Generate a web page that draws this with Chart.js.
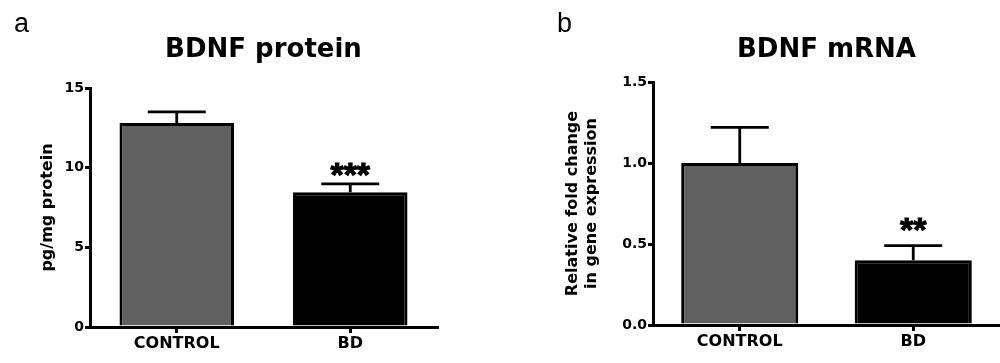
<!DOCTYPE html>
<html>
<head>
<meta charset="utf-8">
<script src="https://cdn.jsdelivr.net/npm/chart.js@4"></script>
<style>
  body { margin: 0; background: #fff; }
  #wrap { position: relative; width: 1000px; height: 363px; overflow: hidden; }
  .panel { position: absolute; top: 0; width: 500px; height: 363px; }
</style>
</head>
<body>
<div id="wrap">
  <div class="panel" style="left:0"><canvas id="chartA" width="500" height="363"></canvas></div>
  <div class="panel" style="left:500px"><canvas id="chartB" width="500" height="363"></canvas></div>
</div>
<script>
// данные
const groups = ['CONTROL', 'BD'];
const barColors = ['#606060', '#000000'];

const proteinMeans = [12.8, 8.45];
const proteinErrors = [0.7, 0.53];
const proteinStars = ['', '***'];
const proteinTicks = [0, 5, 10, 15];

const mrnaMeans = [1.0, 0.40];
const mrnaErrors = [0.22, 0.09];
const mrnaStars = ['', '**'];
const mrnaTicks = [0.0, 0.5, 1.0, 1.5];

const boldFont = 'DejaVu Sans';

// планки погрешностей и звёздочки над столбцами
const errorBars = {
    id: 'errorBars',
    afterDatasetsDraw(chart, args, opts) {
        const ctx = chart.ctx;
        const y = chart.scales.y;
        const values = chart.data.datasets[0].data;
        const meta = chart.getDatasetMeta(0);
        ctx.save();
        ctx.strokeStyle = '#000';
        ctx.lineWidth = 2.8;
        meta.data.forEach((bar, i) => {
            const top = y.getPixelForValue(values[i] + opts.errors[i]);
            ctx.beginPath();
            ctx.moveTo(bar.x, bar.y);
            ctx.lineTo(bar.x, top);
            ctx.moveTo(bar.x - 29, top);
            ctx.lineTo(bar.x + 29, top);
            ctx.stroke();
            if (opts.stars[i]) {
                ctx.fillStyle = '#000';
                ctx.lineWidth = 1;
                ctx.font = 'bold 34px "Liberation Sans"';
                ctx.textAlign = 'center';
                ctx.textBaseline = 'alphabetic';
                ctx.fillText(opts.stars[i], bar.x, top + opts.starDrop);
                ctx.strokeText(opts.stars[i], bar.x, top + opts.starDrop);
            }
        });
        ctx.restore();
    }
};

// буква панели и заголовок
const panelText = {
    id: 'panelText',
    afterDraw(chart, args, opts) {
        const ctx = chart.ctx;
        const area = chart.chartArea;
        ctx.save();
        ctx.fillStyle = '#000';
        ctx.textBaseline = 'alphabetic';
        ctx.textAlign = 'left';
        ctx.font = '27px "Liberation Sans"';
        ctx.fillText(opts.letter, opts.letterX, 32);
        ctx.textAlign = 'center';
        ctx.textBaseline = 'middle';
        ctx.font = 'bold 26px ' + boldFont;
        ctx.fillText(opts.title, (area.left + area.right) / 2, 50);
        ctx.restore();
    }
};

function makeChart(id, cfg) {
    const ctx = document.getElementById(id).getContext('2d');
    return new Chart(ctx, {
        type: 'bar',
        data: {
            labels: groups,
            datasets: [{
                data: cfg.means,
                backgroundColor: barColors,
                borderColor: '#000',
                borderWidth: 3,
                categoryPercentage: 1,
                barPercentage: cfg.barPct
            }]
        },
        options: {
            responsive: false,
            animation: false,
            layout: { padding: cfg.padding },
            plugins: {
                legend: { display: false },
                tooltip: { enabled: false },
                errorBars: { errors: cfg.errors, stars: cfg.stars, starDrop: cfg.starDrop },
                panelText: { letter: cfg.letter, letterX: cfg.letterX, title: cfg.title }
            },
            scales: {
                x: {
                    afterFit: s => { s.height = cfg.xHeight; },
                    border: { color: '#000', width: 3 },
                    grid: { drawOnChartArea: false, offset: false, tickLength: 6, color: '#000', lineWidth: 3 },
                    ticks: { color: '#000', padding: 1, font: { family: boldFont, weight: 'bold', size: 16 } }
                },
                y: {
                    min: cfg.ticks[0],
                    max: cfg.ticks[cfg.ticks.length - 1],
                    afterBuildTicks: s => { s.ticks = cfg.ticks.map(v => ({ value: v })); },
                    afterFit: s => { s.width = cfg.yWidth; },
                    border: { color: '#000', width: 3 },
                    grid: { drawOnChartArea: false, tickLength: 5, color: '#000', lineWidth: 3 },
                    ticks: {
                        color: '#000',
                        padding: 1,
                        font: { family: boldFont, weight: 'bold', size: 14 },
                        callback: v => cfg.decimals ? Number(v).toFixed(cfg.decimals) : String(v)
                    },
                    title: {
                        display: true,
                        text: cfg.yTitle,
                        color: '#000',
                        padding: { top: cfg.yTitlePad, bottom: 0 },
                        font: { family: boldFont, weight: 'bold', size: 16, lineHeight: 1.2 }
                    }
                }
            }
        },
        plugins: [errorBars, panelText]
    });
}

window.onload = () => {
    makeChart('chartA', {
        means: proteinMeans, errors: proteinErrors, stars: proteinStars, ticks: proteinTicks,
        decimals: 0, barPct: 0.66, starDrop: 2,
        padding: { left: 0, top: 88, right: 63, bottom: 0 },
        xHeight: 36, yWidth: 90, yTitlePad: 38,
        yTitle: 'pg/mg protein', letter: 'a', letterX: 14, title: 'BDNF protein'
    });
    makeChart('chartB', {
        means: mrnaMeans, errors: mrnaErrors, stars: mrnaStars, ticks: mrnaTicks,
        decimals: 1, barPct: 0.675, starDrop: -5,
        padding: { left: 0, top: 82, right: 0, bottom: 0 },
        xHeight: 38, yWidth: 153, yTitlePad: 63,
        yTitle: ['Relative fold change', 'in gene expression'], letter: 'b', letterX: 57, title: 'BDNF mRNA'
    });
};
</script>
</body>
</html>
